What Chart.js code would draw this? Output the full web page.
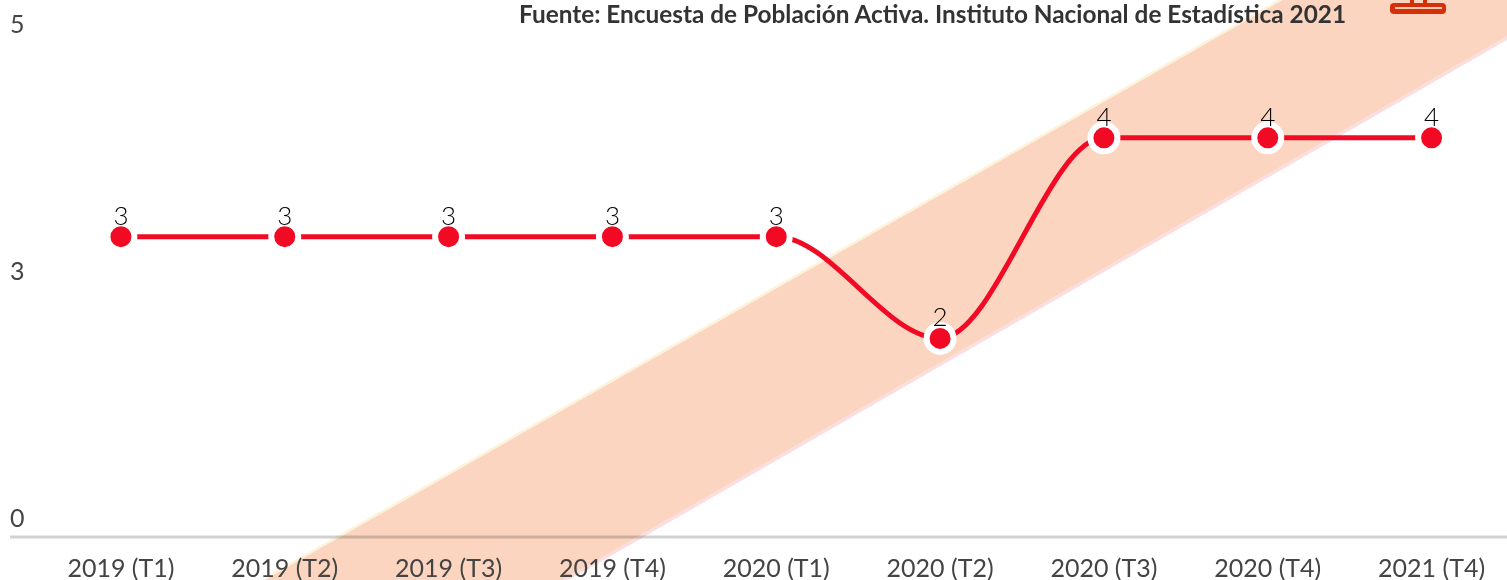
<!DOCTYPE html>
<html>
<head>
<meta charset="utf-8">
<script src="https://cdn.jsdelivr.net/npm/chart.js@4"></script>
<style>
    html, body { margin: 0; padding: 0; background: #fff; overflow: hidden; width: 1507px; height: 580px; }
    #wrap { position: relative; width: 1507px; height: 580px; overflow: hidden; }
    #fuente { position: absolute; left: 519px; top: 0; font: bold 24.35px Lato, sans-serif; color: #333; white-space: nowrap; line-height: 28px; }
    .icono { position: absolute; background: #d4300a; }
</style>
</head>
<body>
<div id="wrap">
    <canvas id="paro" width="1533" height="580"></canvas>
    <div id="fuente">Fuente: Encuesta de Población Activa. Instituto Nacional de Estadística 2021</div>
    <div class="icono" style="left:1390px;top:3px;width:56px;height:11px;border-radius:4px"></div>
    <div class="icono" style="left:1395px;top:7px;width:47px;height:2px;background:#f6c9b0"></div>
    <div class="icono" style="left:1410px;top:0;width:4px;height:4px"></div>
    <div class="icono" style="left:1423px;top:0;width:4px;height:4px"></div>
</div>
<script>
var trimestres = ['2019 (T1)', '2019 (T2)', '2019 (T3)', '2019 (T4)', '2020 (T1)', '2020 (T2)', '2020 (T3)', '2020 (T4)', '2021 (T4)'];
var valores = [3.04, 3.04, 3.04, 3.04, 3.04, 2.01, 4.04, 4.04, 4.04];
var yMin = 0;
var yMax = 5;
var yPaso = 2.5;

var fuente = 'Lato, sans-serif';

// diagonal band behind the chart (decoration, not data)
var banda = {
    id: 'banda',
    beforeDraw: function (chart) {
        var c = chart.ctx;
        function poly(color, up, down) {
            c.fillStyle = color;
            c.beginPath();
            c.moveTo(1283, -up);
            c.lineTo(265, 580 - up);
            c.lineTo(562, 580 + down);
            c.lineTo(1533, 21 + down);
            c.lineTo(1533, -up);
            c.closePath();
            c.fill();
        }
        c.save();
        poly('#fdf3d8', 3, 0);
        poly('#fbdfe0', 0, 4);
        poly('#fbd5c0', 0, 0);
        c.restore();
    }
};

// axis line under the plot, starts left of the y axis
var baseLine = {
    id: 'baseLine',
    beforeDatasetsDraw: function (chart) {
        var c = chart.ctx, y = chart.scales.y.getPixelForValue(0);
        c.save();
        c.strokeStyle = 'rgba(0,0,0,0.18)';
        c.lineWidth = 3;
        c.beginPath();
        c.moveTo(10, y);
        c.lineTo(chart.width, y);
        c.stroke();
        c.restore();
    }
};

// rounded value above each point
var etiquetas = {
    id: 'etiquetas',
    afterDatasetsDraw: function (chart) {
        var c = chart.ctx, pts = chart.getDatasetMeta(0).data;
        c.save();
        c.fillStyle = '#000';
        c.font = '300 26px ' + fuente;
        c.textAlign = 'center';
        c.textBaseline = 'alphabetic';
        for (var i = 0; i < pts.length; i++) {
            c.fillText(Math.round(valores[i]), pts[i].x, pts[i].y - 12);
        }
        c.restore();
    }
};

var ctx = document.getElementById('paro');
var myChart = new Chart(ctx, {
    type: 'line',
    plugins: [banda, baseLine, etiquetas],
    data: {
        labels: trimestres,
        datasets: [{
            data: valores,
            borderColor: '#f20a25',
            borderWidth: 5,
            cubicInterpolationMode: 'monotone',
            pointRadius: 13.5,
            pointBackgroundColor: '#f20a25',
            pointBorderColor: '#fff',
            pointBorderWidth: 6
        }]
    },
    options: {
        responsive: false,
        animation: false,
        layout: { padding: { left: 10, top: 43, right: 1, bottom: 0 } },
        plugins: { legend: { display: false }, tooltip: { enabled: false } },
        scales: {
            x: {
                offset: true,
                afterFit: function (s) { s.height = 43; },
                grid: { display: false },
                border: { display: false },
                ticks: { color: '#444', font: { family: fuente, size: 25 }, padding: 9, maxRotation: 0, autoSkip: false }
            },
            y: {
                min: yMin,
                max: yMax,
                afterFit: function (s) { s.width = 29; },
                grid: { display: false },
                border: { display: false },
                ticks: {
                    stepSize: yPaso,
                    color: '#444',
                    crossAlign: 'far',
                    labelOffset: -18,
                    font: { family: fuente, size: 25 },
                    callback: function (v) { return Math.round(v); }
                }
            }
        }
    }
});
</script>
</body>
</html>
